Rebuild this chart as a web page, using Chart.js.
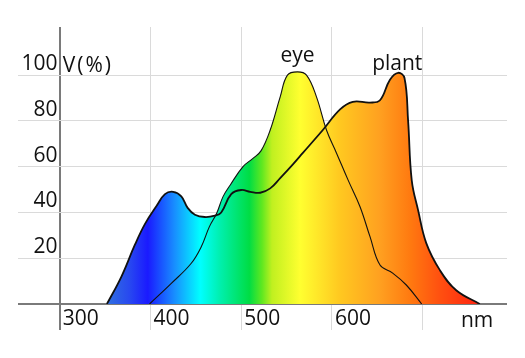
<!DOCTYPE html>
<html>
<head>
<meta charset="utf-8">
<script src="https://cdn.jsdelivr.net/npm/chart.js@4/dist/chart.umd.min.js"></script>
<style>
  html, body { margin: 0; padding: 0; background: #fff; }
  #wrap { width: 525px; height: 358px; }
</style>
</head>
<body>
<div id="wrap"><canvas id="chart"></canvas></div>
<script>
// ─── Data ────────────────────────────────────────────────────────────

const plantNm  = [352, 368, 383, 394, 407, 416, 425, 434, 441, 449, 460, 471, 478, 489, 500, 510, 521, 532, 543, 557, 568, 590, 609, 623, 642, 653, 664, 673, 680, 684, 688, 695, 704, 719, 737, 763];
const plantPct = [0, 12, 26, 35, 43, 48, 49, 47, 42, 39, 38, 38.6, 40, 48, 49.8, 49, 48.6, 50.5, 55, 61, 66, 76, 85, 88.3, 88, 89, 98, 101, 98.7, 80, 54, 41, 26.6, 14.8, 6, 0];

const eyeNm  = [399, 423, 445, 456, 465, 473, 480, 488, 502, 513, 522, 532, 543, 551, 562, 572, 583, 594, 605, 618, 631, 642, 653, 667, 682, 699];
const eyePct = [0, 9, 17.8, 25, 33.8, 39.6, 46.9, 52, 60, 63.6, 67, 76, 90.5, 100, 101.4, 100, 90.5, 76, 66, 54, 42.5, 29.4, 17, 13.5, 8.3, 0];

const xTicks = [300, 400, 500, 600, 700];
const yTicks = [0, 20, 40, 60, 80, 100];

// spectrum stops used for the fill (nm, colour)
const spectrumNm  = [352, 377, 397, 427, 455, 476, 509, 523, 534, 565, 609, 653, 686, 719, 758];
const spectrumCol = ['#3070e0', '#2848f0', '#1a1aff', '#1890ff', '#00ffff', '#00f0b0', '#00dd44', '#60e820', '#c0f020', '#ffff30', '#ffc820', '#ffa020', '#ff7a10', '#ff5010', '#ff2810'];

const FONT = { family: "'Open Sans', 'Noto Sans', sans-serif", size: 21 };
const TEXT = '#111';
const GRID = '#dadada';
const AXIS = '#7a7a7a';

// ─── Helpers ─────────────────────────────────────────────────────────

function toPoints(xs, ys) {
  return xs.map((x, i) => ({ x, y: ys[i] }));
}

function spectrumFill(context) {
  const { chart } = context;
  const { ctx, chartArea, scales } = chart;
  if (!chartArea) return null;
  const n0 = spectrumNm[0];
  const n1 = spectrumNm[spectrumNm.length - 1];
  const g = ctx.createLinearGradient(scales.x.getPixelForValue(n0), 0, scales.x.getPixelForValue(n1), 0);
  spectrumNm.forEach((nm, i) => g.addColorStop((nm - n0) / (n1 - n0), spectrumCol[i]));
  return g;
}

// free-standing captions placed by data value
const captions = {
  id: 'captions',
  afterDraw(chart) {
    const { ctx, scales } = chart;
    const x = scales.x, y = scales.y;
    ctx.save();
    ctx.fillStyle = TEXT;
    ctx.font = `${FONT.size}px ${FONT.family}`;
    ctx.textBaseline = 'alphabetic';
    ctx.textAlign = 'center';
    ctx.fillText('eye', x.getPixelForValue(562), y.getPixelForValue(105.5));
    ctx.fillText('plant', x.getPixelForValue(672), y.getPixelForValue(102));
    ctx.fillText('nm', x.getPixelForValue(760), chart.chartArea.bottom + 23);
    ctx.textAlign = 'left';
    ctx.letterSpacing = '2px';
    ctx.fillText('V(%)', x.getPixelForValue(300) + 3, y.getPixelForValue(100) - 3);
    ctx.restore();
  }
};

// ─── Chart ───────────────────────────────────────────────────────────

new Chart(document.getElementById('chart'), {
  type: 'line',
  data: {
    datasets: [
      {
        label: 'eye',
        data: toPoints(eyeNm, eyePct),
        borderColor: '#111',
        borderWidth: 1.1,
        backgroundColor: spectrumFill,
        fill: 'origin',
        pointRadius: 0,
        tension: 0.4,
      },
      {
        label: 'plant',
        data: toPoints(plantNm, plantPct),
        borderColor: '#111',
        borderWidth: 1.8,
        backgroundColor: spectrumFill,
        fill: 'origin',
        pointRadius: 0,
        tension: 0.4,
      },
    ]
  },
  options: {
    responsive: true,
    maintainAspectRatio: false,
    animation: false,
    layout: { padding: { left: 18, right: 18, top: 27, bottom: 0 } },
    plugins: {
      legend: { display: false },
      tooltip: { enabled: false },
      filler: { drawTime: 'beforeDatasetsDraw' },
    },
    scales: {
      x: {
        type: 'linear',
        min: 254,
        max: 793,
        afterBuildTicks: s => { s.ticks = xTicks.map(v => ({ value: v })); },
        afterFit: s => { s.height = 54; },
        border: { display: false },
        grid: {
          color: c => c.tick && c.tick.value === 300 ? AXIS : GRID,
          lineWidth: c => c.tick && c.tick.value === 300 ? 2 : 1,
          tickLength: 26,
        },
        ticks: {
          color: TEXT,
          font: FONT,
          padding: -24,
          labelOffset: 21,
          maxRotation: 0,
          callback: v => v < 700 ? String(v) : '',
        },
      },
      y: {
        position: { x: 300 },
        min: 0,
        max: 121,
        afterBuildTicks: s => { s.ticks = yTicks.map(v => ({ value: v })); },
        border: { display: false },
        grid: {
          color: c => c.tick && c.tick.value === 0 ? AXIS : GRID,
          lineWidth: c => c.tick && c.tick.value === 0 ? 2 : 1,
          drawTicks: false,
        },
        ticks: {
          color: TEXT,
          font: FONT,
          labelOffset: -11,
          callback: v => v === 0 ? '' : v + '\u200A',
        },
      },
    },
  },
  plugins: [captions],
});
</script>
</body>
</html>
